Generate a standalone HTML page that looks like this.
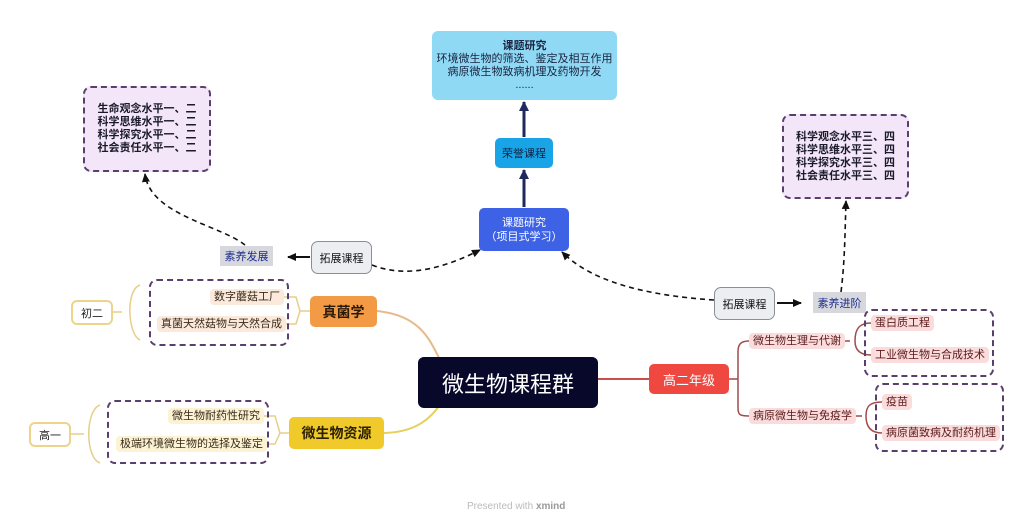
<!DOCTYPE html>
<html><head><meta charset="utf-8"><style>
body{margin:0;width:1036px;height:529px;background:#fff;position:relative;overflow:hidden;font-family:"Liberation Sans","Noto Sans CJK SC",sans-serif;}
.b{position:absolute;display:flex;align-items:center;justify-content:center;text-align:center;box-sizing:border-box;white-space:nowrap;}
.d{position:absolute;box-sizing:border-box;border:2px dashed #5a3f6e;border-radius:8px;}
.it{position:absolute;font-size:11px;color:#3a2a1a;border-radius:4px;padding:0 4px;line-height:16px;}
svg{position:absolute;left:0;top:0;}
</style></head><body>
<svg width="1036" height="529">
<defs>
<marker id="a" markerUnits="userSpaceOnUse" markerWidth="12" markerHeight="12" refX="9" refY="6" orient="auto"><path d="M0,1 L10,6 L0,11z" fill="#1f2a5c"/></marker>
<marker id="k" markerUnits="userSpaceOnUse" markerWidth="10" markerHeight="10" refX="8" refY="5" orient="auto"><path d="M0,1 L9,5 L0,9z" fill="#111"/></marker>
</defs>
<line x1="524" y1="207" x2="524" y2="170" stroke="#1f2a5c" stroke-width="3" marker-end="url(#a)"/>
<line x1="524" y1="137" x2="524" y2="102" stroke="#1f2a5c" stroke-width="3" marker-end="url(#a)"/>
<line x1="310" y1="257" x2="288" y2="257" stroke="#111" stroke-width="2" marker-end="url(#k)"/>
<line x1="777" y1="303" x2="801" y2="303" stroke="#111" stroke-width="2" marker-end="url(#k)"/>
<g fill="none" stroke="#111" stroke-width="1.6" stroke-dasharray="5,4">
<path d="M372,265 C410,280 450,265 480,250" marker-end="url(#k)"/>
<path d="M245,245 C220,225 150,215 145,174" marker-end="url(#k)"/>
<path d="M714,300 C640,295 590,280 562,252" marker-end="url(#k)"/>
<path d="M841,292 C845,260 845,230 846,201" marker-end="url(#k)"/>
</g>
<g fill="none" stroke-width="2">
<path d="M377,311 C420,315 430,340 440,360" stroke="#e8b98a"/>
<path d="M384,433 C420,432 432,415 440,405" stroke="#e6cf5a"/>
<line x1="598" y1="379" x2="649" y2="379" stroke="#c74f4f"/>
</g>
<g fill="none" stroke="#e6cf8a" stroke-width="1.5">
<path d="M113,312 L122,312 M140,285 C125,290 128,335 140,340"/>
<path d="M282,297 L296,297 L300,311 L310,311 M282,324 L296,324 L300,311"/>
<path d="M71,434 L84,434 M100,405 C85,410 85,458 100,463"/>
<path d="M259,416 L275,416 L280,433 L289,433 M259,444 L275,444 L280,433"/>
</g>
<g fill="none" stroke="#a14a4a" stroke-width="1.5">
<path d="M729,379 L738,379 M749,341 C740,341 738,345 738,352 L738,408 C738,415 740,416 749,416"/>
<path d="M838,341 L850,341 M871,323 C860,323 855,328 855,341 C855,350 860,355 871,355"/>
<path d="M853,416 L862,416 M882,402 C870,402 866,406 866,416 C866,426 870,433 882,433"/>
</g>
</svg>
<div class="b" style="left:432px;top:31px;width:185px;height:69px;background:#8fd9f4;border-radius:6px;font-size:11px;line-height:13px;color:#1a2340;flex-direction:column;"><b>课题研究</b><span>环境微生物的筛选、鉴定及相互作用</span><span>病原微生物致病机理及药物开发</span><span>......</span></div>
<div class="b" style="left:495px;top:138px;width:58px;height:30px;background:#18a4e6;border-radius:5px;font-size:11px;color:#0e2040;">荣誉课程</div>
<div class="b" style="left:479px;top:208px;width:90px;height:43px;background:#3d62e6;border-radius:5px;font-size:11px;line-height:14px;color:#fff;flex-direction:column;"><span>课题研究</span><span>（项目式学习）</span></div>
<div class="d b" style="left:83px;top:86px;width:128px;height:86px;background:#f2e6f8;font-size:11px;font-weight:bold;line-height:13px;color:#1a1a2a;flex-direction:column;">生命观念水平一、二<br>科学思维水平一、二<br>科学探究水平一、二<br>社会责任水平一、二</div>
<div class="d b" style="left:782px;top:114px;width:127px;height:85px;background:#f2e6f8;font-size:11px;font-weight:bold;line-height:13px;color:#1a1a2a;flex-direction:column;">科学观念水平三、四<br>科学思维水平三、四<br>科学探究水平三、四<br>社会责任水平三、四</div>
<div class="b" style="left:220px;top:246px;width:53px;height:20px;background:#d6d8de;font-size:11px;color:#1b2a8a;">素养发展</div>
<div class="b" style="left:311px;top:241px;width:61px;height:33px;background:#eceef2;border:1.5px solid #8a8e96;border-radius:7px;font-size:11px;color:#111;">拓展课程</div>
<div class="b" style="left:714px;top:287px;width:61px;height:33px;background:#eceef2;border:1.5px solid #8a8e96;border-radius:7px;font-size:11px;color:#111;">拓展课程</div>
<div class="b" style="left:813px;top:292px;width:53px;height:21px;background:#d6d8de;font-size:11px;color:#1b2a8a;">素养进阶</div>
<div class="b" style="left:418px;top:357px;width:180px;height:51px;background:#07082a;border-radius:6px;font-size:22px;color:#fff;">微生物课程群</div>
<div class="b" style="left:310px;top:296px;width:67px;height:31px;background:#f39a45;border-radius:5px;font-size:14px;font-weight:bold;color:#2a1a0a;">真菌学</div>
<div class="b" style="left:289px;top:417px;width:95px;height:32px;background:#f0c92a;border-radius:5px;font-size:14px;font-weight:bold;color:#2a2000;">微生物资源</div>
<div class="b" style="left:649px;top:364px;width:80px;height:30px;background:#ef4840;border-radius:5px;font-size:13px;color:#fff;">高二年级</div>
<div class="b" style="left:71px;top:300px;width:42px;height:25px;border:2px solid #ecd58a;border-radius:6px;font-size:11px;color:#222;">初二</div>
<div class="b" style="left:29px;top:422px;width:42px;height:25px;border:2px solid #ecd58a;border-radius:6px;font-size:11px;color:#222;">高一</div>
<div class="d" style="left:149px;top:279px;width:140px;height:67px;"></div>
<div class="it" style="left:210px;top:289px;background:#fbeadb;">数字蘑菇工厂</div>
<div class="it" style="left:157px;top:316px;background:#fbeadb;">真菌天然菇物与天然合成</div>
<div class="d" style="left:107px;top:400px;width:162px;height:64px;"></div>
<div class="it" style="left:168px;top:408px;background:#fbf3d4;">微生物耐药性研究</div>
<div class="it" style="left:116px;top:436px;background:#fbf3d4;">极端环境微生物的选择及鉴定</div>
<div class="it" style="left:749px;top:333px;background:#fbdcdc;color:#5a1a1a;">微生物生理与代谢</div>
<div class="it" style="left:749px;top:408px;background:#fbdcdc;color:#5a1a1a;">病原微生物与免疫学</div>
<div class="d" style="left:864px;top:309px;width:130px;height:68px;"></div>
<div class="it" style="left:871px;top:315px;background:#fbdcdc;color:#5a1a1a;">蛋白质工程</div>
<div class="it" style="left:871px;top:347px;background:#fbdcdc;color:#5a1a1a;">工业微生物与合成技术</div>
<div class="d" style="left:875px;top:383px;width:129px;height:69px;"></div>
<div class="it" style="left:882px;top:394px;background:#fbdcdc;color:#5a1a1a;">疫苗</div>
<div class="it" style="left:882px;top:425px;background:#fbdcdc;color:#5a1a1a;">病原菌致病及耐药机理</div>
<div style="position:absolute;left:467px;top:501px;font-size:10px;color:#bbb;">Presented with <b style="color:#999">xmind</b></div>
</body></html>
